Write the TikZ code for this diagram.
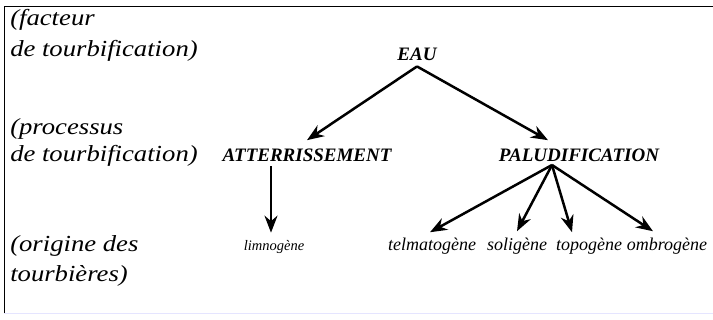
\documentclass[tikz,border=0pt]{standalone}
\usepackage{fontspec}
\setmainfont{Liberation Serif}
\newfontfamily\widefont[FakeStretch=1.16]{Liberation Serif}
\usetikzlibrary{arrows.meta}

\begin{document}
\begin{tikzpicture}[x=1pt, y=-1pt, >={Stealth[length=17pt,width=13pt]}, line width=2.5pt,
    side/.style={anchor=base west, inner sep=0pt, font=\widefont\fontsize{23}{27}\selectfont\itshape},
    level/.style={anchor=base, inner sep=0pt, font=\fontsize{19}{22}\selectfont\bfseries\itshape},
    origin/.style={anchor=base, inner sep=0pt, font=\fontsize{18}{21}\selectfont\itshape}]
    \useasboundingbox (0,0) rectangle (713,320);
    \draw[line width=1pt] (713,7) -- (4,7) -- (4,313);
    \draw[line width=1pt, blue!10] (4,314) -- (713,314);
    \node[side] (fac1) at (9,26) {(facteur};
    \node[side] (fac2) at (9,57) {de tourbification)};
    \node[side] (pro1) at (9,135) {(processus};
    \node[side] (pro2) at (9,162) {de tourbification)};
    \node[side] (ori1) at (9,252) {(origine des};
    \node[side] (ori2) at (9,282) {tourbières)};
    \node[level] (eau) at (417,61) {EAU};
    \node[level] (atter) at (307,162) {ATTERRISSEMENT};
    \node[level] (palu) at (579,162) {PALUDIFICATION};
    \node[origin, font=\fontsize{14.5}{17}\selectfont\itshape] (limno) at (274,251) {limnogène};
    \node[origin] (telma) at (432,251) {telmatogène};
    \node[origin] (soli) at (517,251) {soligène};
    \node[origin] (topo) at (589,251) {topogène};
    \node[origin] (ombro) at (667,251) {ombrogène};
    \coordinate (fork) at (552,165);
    \draw[->] ([yshift=-4pt]eau.south) -- ([yshift=8pt]atter.north);
    \draw[->] ([yshift=-4pt]eau.south) -- ([xshift=-31pt,yshift=8pt]palu.north);
    \draw[->] ([xshift=-36pt,yshift=-3pt]atter.south) -- ([xshift=-3pt,yshift=7pt]limno.north);
    \draw[->] (fork) -- ([xshift=-2pt,yshift=5pt]telma.north);
    \draw[->] (fork) -- ([xshift=0pt,yshift=6pt]soli.north);
    \draw[->] (fork) -- ([xshift=-17pt,yshift=5pt]topo.north);
    \draw[->] (fork) -- ([xshift=-14pt,yshift=6pt]ombro.north);
\end{tikzpicture}
\end{document}
